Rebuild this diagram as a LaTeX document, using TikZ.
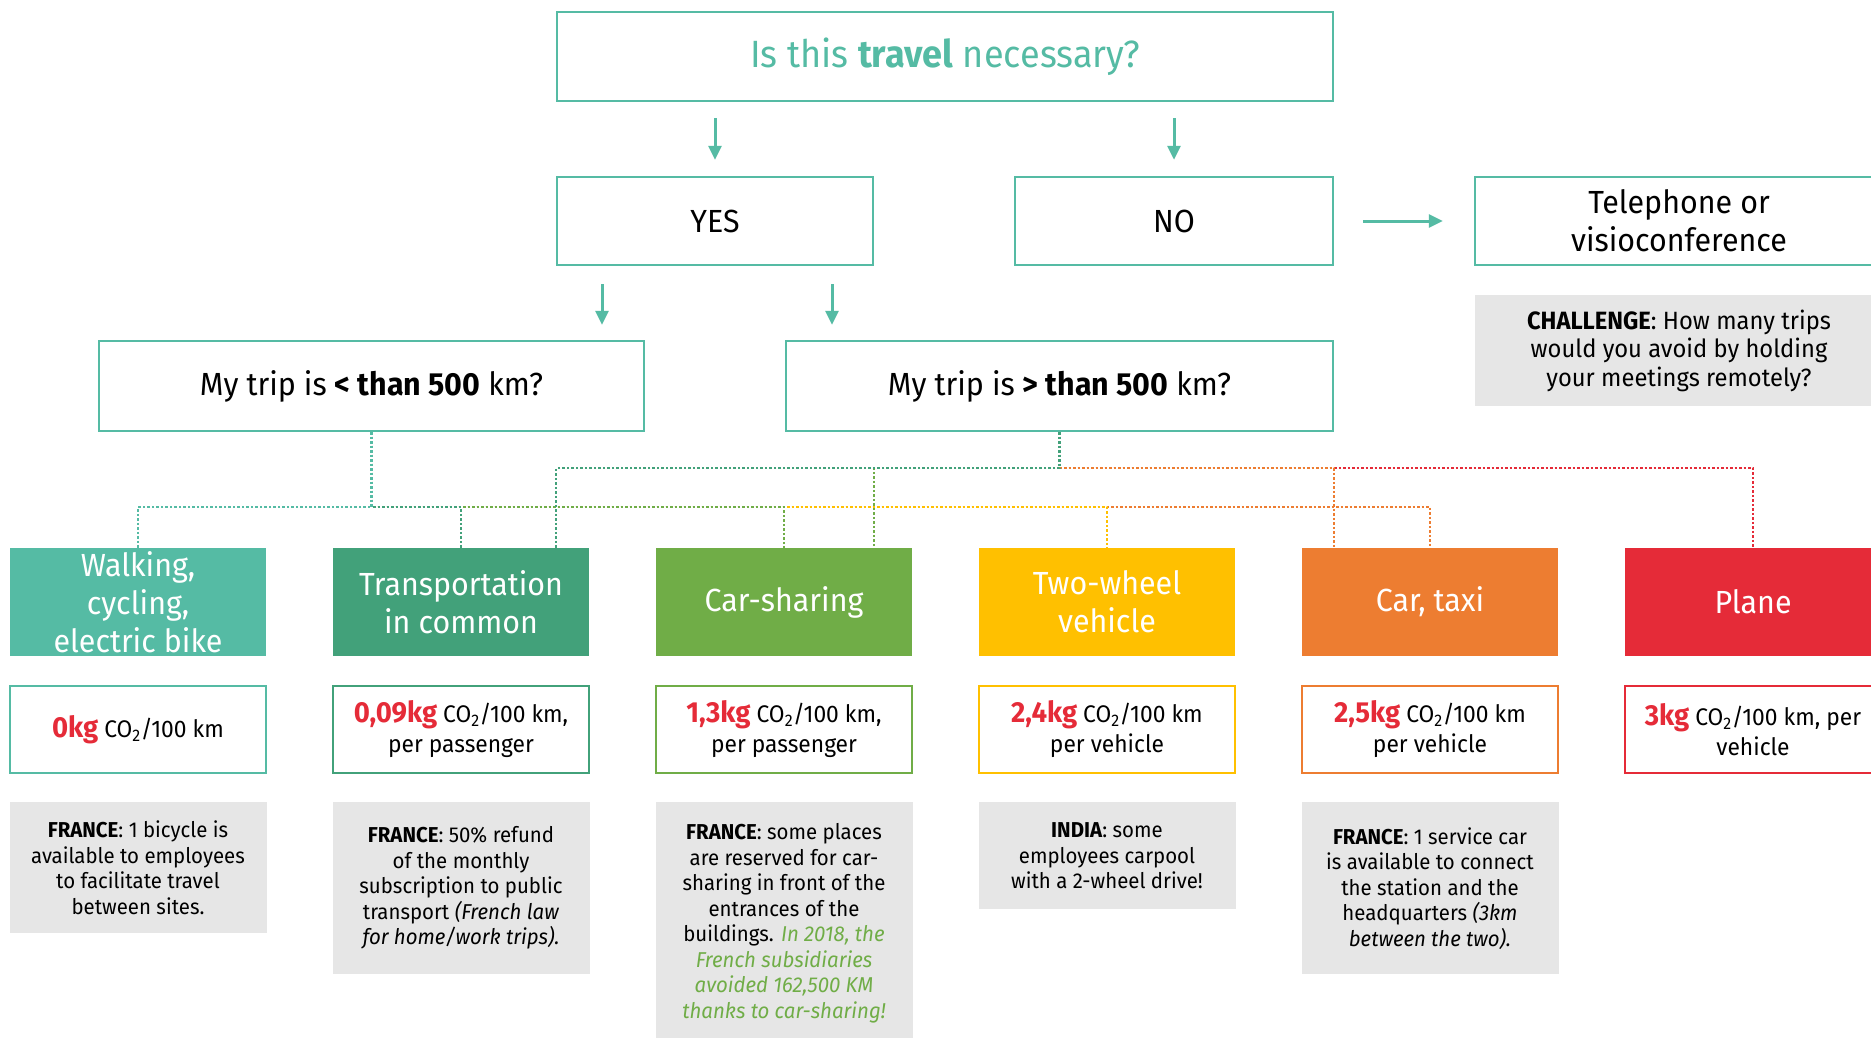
\documentclass[tikz,border=0pt]{standalone}
\usepackage{fontspec}
\setmainfont{Fira Sans}[FakeStretch=0.95]
\usepackage{xcolor}
\usepackage{tikz}
\usetikzlibrary{arrows.meta}
\usetikzlibrary{positioning,calc}

\definecolor{walkteal}{HTML}{55BBA4}
\definecolor{trangreen}{HTML}{42A17A}
\definecolor{sharegreen}{HTML}{70AD47}
\definecolor{wheelyellow}{HTML}{FFC000}
\definecolor{taxiorange}{HTML}{ED7D31}
\definecolor{planered}{HTML}{E52B38}
\definecolor{notegray}{HTML}{E6E6E6}

\tikzset{
    qbox/.style={
        draw=walkteal,
        line width=2.5,
        fill=white,
        inner sep=0pt,
        align=center,
        font=\fontsize{32}{38}\selectfont
    },
    modebox/.style={
        fill=#1,
        text=white,
        minimum width=256,
        minimum height=108,
        inner sep=0pt,
        align=center,
        font=\fontsize{32}{38}\selectfont
    },
    co2box/.style={
        draw=#1,
        line width=2.5,
        fill=white,
        minimum width=256,
        minimum height=87,
        inner sep=0pt,
        align=center,
        font=\fontsize{24}{30}\selectfont
    },
    notebox/.style={
        fill=notegray,
        anchor=north,
        minimum width=257,
        inner sep=0pt,
        align=center,
        font=\fontsize{21.5}{25.5}\selectfont
    },
    flowarrow/.style={
        draw=walkteal,
        line width=3,
        -{Triangle[length=14, width=13]}
    },
    link/.style={
        line width=2.2,
        dash pattern=on 2.5pt off 2pt
    }
}
\newcommand{\kg}[1]{\textcolor{planered}{\fontsize{29}{30}\selectfont\textbf{#1}}}
\newcommand{\cotwo}{CO\textsubscript{2}}
\newcommand{\gnote}[1]{{\color{sharegreen}\itshape #1}}

\begin{document}
\begin{tikzpicture}[x=1pt, y=-1pt]
  \useasboundingbox (0,0) rectangle (1871,1037);
  \clip (0,0) rectangle (1871,1037);
  \fill[white] (0,0) rectangle (1871,1037);

  % Question and answers
  \node[qbox, minimum width=776, minimum height=89, text=walkteal,
        font=\fontsize{38}{44}\selectfont] (travel) at (945,56.5) {Is this \textbf{travel} necessary?};
  \node[qbox, minimum width=316, minimum height=88] (yes) at (715,221) {YES};
  \node[qbox, minimum width=318, minimum height=88] (no) at (1174,221) {NO};
  \node[qbox, minimum width=408, minimum height=88] (tele) at (1679,221) {Telephone or\\visioconference};
  \node[fill=notegray, minimum width=408, minimum height=111, inner sep=0pt, align=center,
        font=\fontsize{25}{28.5}\selectfont] (challenge) at (1679,350.5)
        {\textbf{CHALLENGE}: How many trips\\would you avoid by holding\\your meetings remotely?};

  % Distance
  \node[qbox, minimum width=545, minimum height=90] (lt) at (371.5,386) {My trip is \textbf{< than 500} km?};
  \node[qbox, minimum width=547, minimum height=90] (rt) at (1059.5,386) {My trip is \textbf{> than 500} km?};

  % Arrows
  \draw[flowarrow, shorten <=16, shorten >=16] (yes |- travel.south) -- (yes.north);
  \draw[flowarrow, shorten <=16, shorten >=16] (no |- travel.south) -- (no.north);
  \draw[flowarrow, shorten <=29, shorten >=31] (no.east) -- (tele.west);
  \coordinate (yesl) at ($(yes.south)+(-113,0)$);
  \coordinate (yesr) at ($(yes.south)+(117,0)$);
  \draw[flowarrow, shorten <=18, shorten >=15] (yesl) -- (yesl |- lt.north);
  \draw[flowarrow, shorten <=18, shorten >=15] (yesr) -- (yesr |- rt.north);

  % Means of transport
  \node[modebox=walkteal] (walk) at (138,602) {Walking,\\cycling,\\electric bike};
  \node[modebox=trangreen] (trans) at (461,602) {Transportation\\in common};
  \node[modebox=sharegreen] (share) at (784,602) {Car-sharing};
  \node[modebox=wheelyellow] (wheel) at (1107,602) {Two-wheel\\vehicle};
  \node[modebox=taxiorange] (taxi) at (1430,602) {Car, taxi};
  \node[modebox=planered] (plane) at (1753,602) {Plane};

  % Emissions
  \node[co2box=walkteal] (walkco) at (138,729.5) {\kg{0kg} \cotwo/100 km};
  \node[co2box=trangreen] (transco) at (461,729.5) {\kg{0,09kg} \cotwo/100 km,\\per passenger};
  \node[co2box=sharegreen] (shareco) at (784,729.5) {\kg{1,3kg} \cotwo/100 km,\\per passenger};
  \node[co2box=wheelyellow] (wheelco) at (1107,729.5) {\kg{2,4kg} \cotwo/100 km\\per vehicle};
  \node[co2box=taxiorange] (taxico) at (1430,729.5) {\kg{2,5kg} \cotwo/100 km\\per vehicle};
  \node[co2box=planered] (planeco) at (1753,729.5) {\kg{3kg} \cotwo/100 km, per\\vehicle};

  % Examples
  \node[notebox, minimum height=131] (walknote) at (138,802)
    {\textbf{FRANCE}: 1 bicycle is\\available to employees\\to facilitate travel\\between sites.};
  \node[notebox, minimum height=172] (transnote) at (461,802)
    {\textbf{FRANCE}: 50\% refund\\of the monthly\\subscription to public\\transport \textit{(French law}\\\textit{for home/work trips).}};
  \node[notebox, minimum height=242] (sharenote) at (784,802)
    {\textbf{FRANCE}: some places\\are reserved for car-\\sharing in front of the\\entrances of the\\buildings. \gnote{In 2018, the}\\\gnote{French subsidiaries}\\\gnote{avoided 162,500 KM}\\\gnote{thanks to car-sharing!}};
  \node[notebox, minimum height=107] (wheelnote) at (1107,802)
    {\textbf{INDIA}: some\\employees carpool\\with a 2-wheel drive!};
  \node[notebox, minimum height=172] (taxinote) at (1430,802)
    {\textbf{FRANCE}: 1 service car\\is available to connect\\the station and the\\headquarters \textit{(3km}\\\textit{between the two).}};

  % Links from < 500 km
  \draw[link, taxiorange] (lt.south) -- ++(0,75) -| (taxi.north);
  \draw[link, wheelyellow] (lt.south) -- ++(0,75) -| (wheel.north);
  \draw[link, sharegreen] (lt.south) -- ++(0,75) -| (share.north);
  \draw[link, trangreen] (lt.south) -- ++(0,75) -| (trans.north);
  \draw[link, walkteal] (lt.south) -- ++(0,75) -| (walk.north);

  % Links from > 500 km
  \draw[link, planered] (rt.south) -- ++(0,36) -| (plane.north);
  \draw[link, taxiorange] (rt.south) -- ++(0,36) -| ($(taxi.north)+(-96,0)$);
  \draw[link, sharegreen] (rt.south) -- ++(0,36) -| ($(share.north)+(90,0)$);
  \draw[link, trangreen] (rt.south) -- ++(0,36) -| ($(trans.north)+(95,0)$);
\end{tikzpicture}
\end{document}
